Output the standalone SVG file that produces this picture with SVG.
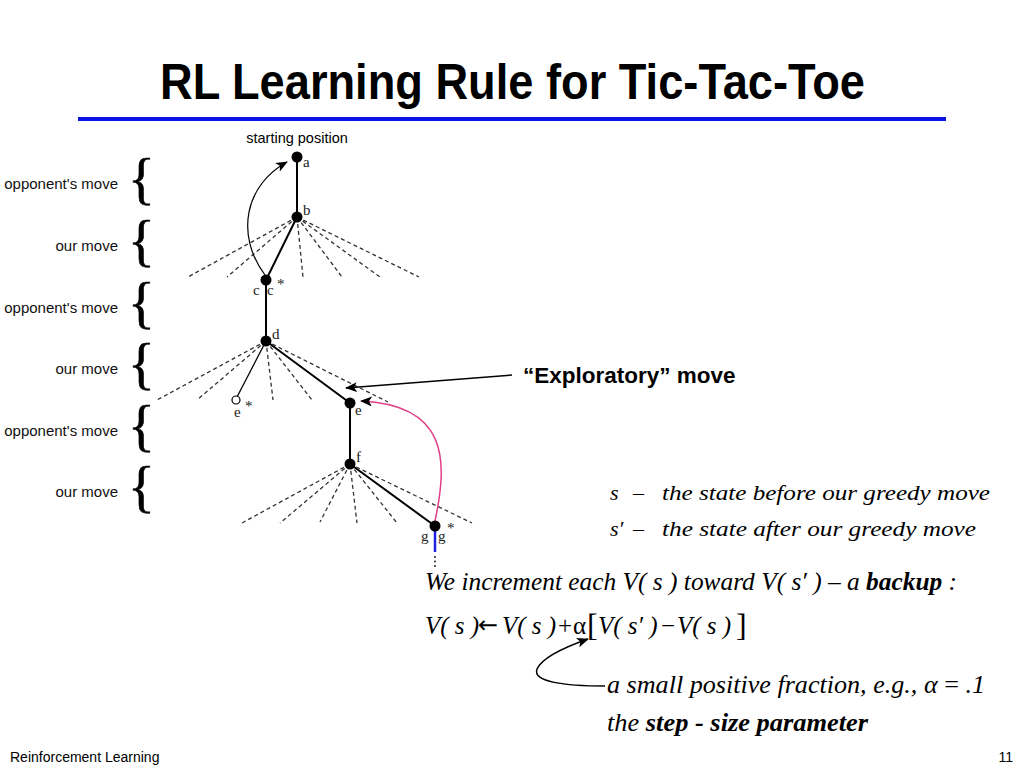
<svg xmlns="http://www.w3.org/2000/svg" width="1024" height="768" viewBox="0 0 1024 768">
<style>
.sans{font-family:"Liberation Sans",Arial,sans-serif;fill:#000}
.serif{font-family:"Liberation Serif","Times New Roman",serif;fill:#000}
.it{font-family:"Liberation Serif","Times New Roman",serif;font-style:italic;fill:#000}
.lvl{font-family:"Liberation Sans",Arial,sans-serif;font-size:15px;text-anchor:end;fill:#111}
.brace{font-family:"Liberation Serif","Times New Roman",serif;font-size:56px;fill:#000;stroke:#000;stroke-width:0.6}
.lbl{font-family:"Liberation Serif","Times New Roman",serif;font-size:15px;fill:#222}
.solid{stroke:#000;stroke-width:2;fill:none}
.dash{stroke:#333;stroke-width:1.3;stroke-dasharray:4 3;fill:none}
.node{fill:#000}
</style>
<defs>
<marker id="ah" viewBox="0 0 12 10" refX="11" refY="5" markerWidth="12" markerHeight="10" markerUnits="userSpaceOnUse" orient="auto">
<path d="M0,0 L12,5 L0,10 L3,5 z" fill="#000"/>
</marker>
</defs>
<rect width="1024" height="768" fill="#fff"/>

<text class="sans" x="160" y="99" font-size="50" font-weight="bold" textLength="705" lengthAdjust="spacingAndGlyphs">RL Learning Rule for Tic-Tac-Toe</text>
<line x1="78" y1="119" x2="946" y2="119" stroke="#0a14e6" stroke-width="4"/>

<g id="levels">
<text class="lvl" x="118" y="189">opponent's move</text>
<text class="lvl" x="118" y="251">our move</text>
<text class="lvl" x="118" y="313">opponent's move</text>
<text class="lvl" x="118" y="374">our move</text>
<text class="lvl" x="118" y="436">opponent's move</text>
<text class="lvl" x="118" y="497">our move</text>
<text class="brace" x="128" y="198">{</text>
<text class="brace" x="128" y="260">{</text>
<text class="brace" x="128" y="322">{</text>
<text class="brace" x="128" y="383">{</text>
<text class="brace" x="128" y="445">{</text>
<text class="brace" x="128" y="506">{</text>
</g>

<text class="sans" x="297" y="143" font-size="14.5" text-anchor="middle">starting position</text>

<g id="connectors">
<line class="solid" x1="297" y1="157" x2="297" y2="217"/>
<line class="solid" x1="297" y1="217" x2="266" y2="280"/>
<line class="solid" x1="266" y1="280" x2="266" y2="341"/>
<line class="solid" x1="266" y1="341" x2="350" y2="403"/>
<line stroke="#000" stroke-width="1.3" x1="266" y1="341" x2="237" y2="397"/>
<line class="solid" x1="350" y1="403" x2="350" y2="464"/>
<line class="solid" x1="350" y1="464" x2="435" y2="526"/>
<g class="dash">
<line x1="297" y1="217" x2="188" y2="277"/>
<line x1="297" y1="217" x2="227" y2="277"/>
<line x1="297" y1="217" x2="303" y2="277"/>
<line x1="297" y1="217" x2="342" y2="277"/>
<line x1="297" y1="217" x2="380" y2="277"/>
<line x1="297" y1="217" x2="419" y2="277"/>
<line x1="266" y1="341" x2="157" y2="400"/>
<line x1="266" y1="341" x2="197" y2="400"/>
<line x1="266" y1="341" x2="273" y2="400"/>
<line x1="266" y1="341" x2="312" y2="400"/>
<line x1="266" y1="341" x2="388" y2="402"/>
<line x1="350" y1="464" x2="242" y2="523"/>
<line x1="350" y1="464" x2="280" y2="523"/>
<line x1="350" y1="464" x2="320" y2="522"/>
<line x1="350" y1="464" x2="357" y2="523"/>
<line x1="350" y1="464" x2="397" y2="523"/>
<line x1="350" y1="464" x2="472" y2="523"/>
</g>
<line x1="435" y1="529" x2="435" y2="552" stroke="#2020e0" stroke-width="2.5"/>
<g fill="#222"><circle cx="435" cy="557" r="1"/><circle cx="435" cy="561.5" r="1"/><circle cx="435" cy="566" r="1"/></g>
<path d="M 265 275 C 235 235, 245 185, 287 162" stroke="#000" stroke-width="1.2" fill="none" marker-end="url(#ah)"/>
<path d="M 435 521 C 448 460, 448 405, 361 401" stroke="#e0408a" stroke-width="1.5" fill="none" marker-end="url(#ah)"/>
<line x1="512" y1="375" x2="346" y2="388" stroke="#000" stroke-width="1.5" marker-end="url(#ah)"/>
<path d="M 605 686 C 565 686, 532 682, 537 669 C 543 656, 568 646, 588 639" stroke="#000" stroke-width="1.5" fill="none" marker-end="url(#ah)"/>
</g>

<g id="node-a"><circle class="node" cx="297" cy="157" r="5.5"/><text class="lbl" x="303" y="167">a</text></g>
<g id="node-b"><circle class="node" cx="297" cy="217" r="5.5"/><text class="lbl" x="303" y="215">b</text></g>
<g id="node-c"><circle class="node" cx="266" cy="280" r="5.5"/><text class="lbl" x="253" y="295">c</text><text class="lbl" x="267" y="295">c</text><text class="lbl" x="277" y="289">*</text></g>
<g id="node-d"><circle class="node" cx="266" cy="341" r="5.5"/><text class="lbl" x="272" y="339">d</text></g>
<g id="node-estar"><circle cx="236" cy="400" r="4" fill="#fff" stroke="#000" stroke-width="1.2"/><text class="lbl" x="234" y="417">e</text><text class="lbl" x="245" y="411">*</text></g>
<g id="node-e"><circle class="node" cx="350" cy="403" r="5.5"/><text class="lbl" x="355" y="415">e</text></g>
<g id="node-f"><circle class="node" cx="350" cy="464" r="5.5"/><text class="lbl" x="356" y="462">f</text></g>
<g id="node-g"><circle class="node" cx="435" cy="526" r="5.5"/><text class="lbl" x="421" y="541">g</text><text class="lbl" x="438" y="541">g</text><text class="lbl" x="447" y="533">*</text></g>

<text class="sans" x="523" y="383" font-size="22.5" font-weight="bold">“Exploratory” move</text>

<g id="defs-text">
<text class="it" x="610" y="500" font-size="22">s</text>
<text class="serif" x="633" y="500" font-size="22">–</text>
<text class="it" x="662" y="500" font-size="22" textLength="328" lengthAdjust="spacingAndGlyphs">the state before our greedy move</text>
<text class="it" x="610" y="536" font-size="22">s′</text>
<text class="serif" x="633" y="536" font-size="22">–</text>
<text class="it" x="662" y="536" font-size="22" textLength="314" lengthAdjust="spacingAndGlyphs">the state after our greedy move</text>
</g>

<text class="it" x="425" y="590" font-size="25" textLength="532" lengthAdjust="spacingAndGlyphs">We increment each V( s ) toward V( s′ ) – a <tspan font-weight="bold">backup</tspan> :</text>
<text class="it" y="634" font-size="25"><tspan x="425">V( s )</tspan><tspan x="478" y="633" font-style="normal" font-family="'DejaVu Sans',sans-serif" font-size="24">←</tspan><tspan x="502" y="634">V( s )</tspan><tspan x="558" font-style="normal">+</tspan><tspan x="573" font-style="normal">α</tspan><tspan x="587" y="636" font-style="normal" font-size="32">[</tspan><tspan x="598" y="634">V( s′ )</tspan><tspan x="661" font-style="normal">−</tspan><tspan x="677">V( s )</tspan><tspan x="736" y="636" font-style="normal" font-size="32">]</tspan></text>
<text class="it" x="607" y="693" font-size="25" textLength="378" lengthAdjust="spacingAndGlyphs">a small positive fraction, e.g., α <tspan font-style="normal">=</tspan> .1</text>
<text class="it" x="607" y="731" font-size="25" textLength="261" lengthAdjust="spacingAndGlyphs">the <tspan font-weight="bold">step - size parameter</tspan></text>

<text class="sans" x="10" y="762" font-size="14">Reinforcement Learning</text>
<text class="sans" x="1013" y="762" font-size="14" text-anchor="end">11</text>
</svg>
